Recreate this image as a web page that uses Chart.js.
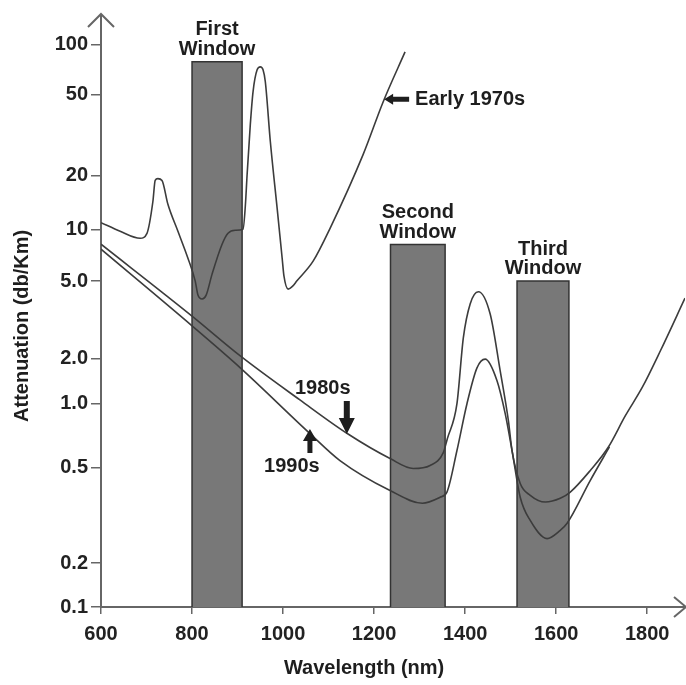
<!DOCTYPE html>
<html>
<head>
<meta charset="utf-8">
<script src="https://cdn.jsdelivr.net/npm/chart.js@4.4.1/dist/chart.umd.min.js"></script>
<style>
  html, body { margin: 0; padding: 0; background: #ffffff; }
  #wrap { width: 686px; height: 685px; position: relative; }
</style>
</head>
<body>
<div id="wrap"><canvas id="c"></canvas></div>
<script>
// ---------------- DATA ----------------
const wavelengthTicks = [600, 800, 1000, 1200, 1400, 1600, 1800];
const attenuationTicks = [0.1, 0.2, 0.5, 1, 2, 5, 10, 20, 50, 100];
const attenuationTickLabels = ['0.1', '0.2', '0.5', '1.0', '2.0', '5.0', '10', '20', '50', '100'];

const early1970sX = [600, 642, 686, 701, 714, 719, 725, 734, 747, 769, 791, 807, 813, 822, 831, 844, 866, 879, 895, 912, 917, 921, 928, 934, 943, 950, 956, 961, 972, 987, 998, 1002, 1011, 1021, 1030, 1066, 1103, 1176, 1220, 1268];
const early1970sY = [10.9, 9.74, 8.87, 9.48, 14.3, 18.75, 19.2, 18.75, 13.8, 9.74, 6.79, 5.0, 4.24, 4.05, 4.24, 5.49, 8.19, 9.48, 9.87, 10.0, 13.4, 20.2, 35.6, 52.1, 70.7, 73.7, 70.7, 59.9, 29.4, 13.1, 6.79, 5.34, 4.55, 4.71, 5.0, 6.53, 10.1, 25.4, 46.2, 90.7];

const s1980sX = [600, 800, 906, 1037, 1141, 1235, 1286, 1323, 1352, 1361, 1382, 1396, 1411, 1429, 1455, 1477, 1495, 1503, 1521, 1543, 1576, 1609, 1631, 1675, 1714, 1752, 1789, 1829, 1883];
const s1980sY = [8.19, 3.31, 2.07, 1.06, 0.723, 0.551, 0.495, 0.511, 0.588, 0.685, 1.0, 2.56, 3.82, 4.41, 3.39, 1.66, 0.832, 0.601, 0.429, 0.383, 0.359, 0.372, 0.395, 0.486, 0.621, 0.878, 1.285, 2.2, 4.09];

const s1990sX = [600, 800, 906, 1059, 1125, 1235, 1306, 1345, 1360, 1382, 1404, 1426, 1444, 1470, 1488, 1503, 1521, 1543, 1580, 1609, 1624, 1675, 1717];
const s1990sY = [7.66, 2.95, 1.74, 0.723, 0.539, 0.401, 0.355, 0.376, 0.395, 0.601, 1.0, 1.74, 1.99, 1.425, 0.897, 0.601, 0.376, 0.301, 0.253, 0.274, 0.293, 0.442, 0.625];

const windowNames = ['First', 'Second', 'Third'];
const windowStart = [800, 1236, 1514];
const windowEnd = [910, 1356, 1628];
const windowTop = [79, 8.15, 5.0];

// ---------------- AXIS WARP (hand-drawn log axis) ----------------
// fraction of plot height at which each tick value sits in the original drawing
const AXIS_KNOTS = [[0.1, 0], [0.2, 0.0741], [0.5, 0.2357], [1, 0.3434], [2, 0.4192], [5, 0.5505],
                    [10, 0.6380], [20, 0.7290], [50, 0.8653], [100, 0.9495], [151, 1]];

function warpValue(v) {
  const L = Math.log10(v);
  const k = AXIS_KNOTS;
  let i = 0;
  while (i < k.length - 2 && L > Math.log10(k[i + 1][0])) i++;
  const L0 = Math.log10(k[i][0]), L1 = Math.log10(k[i + 1][0]);
  return k[i][1] + (L - L0) / (L1 - L0) * (k[i + 1][1] - k[i][1]);
}
function unwarpDecimal(d) {
  const k = AXIS_KNOTS;
  let i = 0;
  while (i < k.length - 2 && d > k[i + 1][1]) i++;
  const L0 = Math.log10(k[i][0]), L1 = Math.log10(k[i + 1][0]);
  return Math.pow(10, L0 + (d - k[i][1]) / (k[i + 1][1] - k[i][1]) * (L1 - L0));
}

class WarpedLogScale extends Chart.LogarithmicScale {
  getPixelForValue(value) {
    if (value === undefined || value === 0) value = this.min;
    if (value === null || isNaN(value)) return NaN;
    return this.getPixelForDecimal(warpValue(value));
  }
  getValueForPixel(pixel) {
    return unwarpDecimal(this.getDecimalForPixel(pixel));
  }
}
WarpedLogScale.id = 'warpedLog';
WarpedLogScale.defaults = Chart.LogarithmicScale.defaults;
Chart.register(WarpedLogScale);

// ---------------- DATASETS ----------------
const toPts = (xs, ys) => xs.map((x, i) => ({ x: x, y: ys[i] }));
const FONT = "'Liberation Sans', Arial, sans-serif";
const CURVE = '#3c3c3c';

const datasets = [];
windowNames.forEach((n, i) => {
  datasets.push({
    label: n + ' Window',
    data: [{ x: windowStart[i], y: 0.1 }, { x: windowStart[i], y: windowTop[i] },
           { x: windowEnd[i], y: windowTop[i] }, { x: windowEnd[i], y: 0.1 }],
    borderColor: '#333333', borderWidth: 1.5, backgroundColor: '#787878',
    fill: 'start', pointRadius: 0, tension: 0, order: 5
  });
});
[['Early 1970s', early1970sX, early1970sY], ['1980s', s1980sX, s1980sY], ['1990s', s1990sX, s1990sY]]
  .forEach(([label, xs, ys]) => {
    datasets.push({
      label: label, data: toPts(xs, ys), borderColor: CURVE, borderWidth: 1.6,
      pointRadius: 0, fill: false, cubicInterpolationMode: 'monotone', order: 1
    });
  });

// ---------------- DECORATION PLUGIN ----------------
function arrow(ctx, tx, ty, fx, fy, shaftW, headW, headL) {
  const dx = tx - fx, dy = ty - fy, len = Math.hypot(dx, dy);
  const ux = dx / len, uy = dy / len, px = -uy, py = ux;
  const bx = tx - ux * headL, by = ty - uy * headL;
  ctx.beginPath();
  ctx.moveTo(fx + px * shaftW / 2, fy + py * shaftW / 2);
  ctx.lineTo(bx + px * shaftW / 2, by + py * shaftW / 2);
  ctx.lineTo(bx + px * headW / 2, by + py * headW / 2);
  ctx.lineTo(tx, ty);
  ctx.lineTo(bx - px * headW / 2, by - py * headW / 2);
  ctx.lineTo(bx - px * shaftW / 2, by - py * shaftW / 2);
  ctx.lineTo(fx - px * shaftW / 2, fy - py * shaftW / 2);
  ctx.closePath();
  ctx.fill();
}

const decor = {
  id: 'decor',
  afterDatasetsDraw(chart) {
    const ctx = chart.ctx, xs = chart.scales.x, ys = chart.scales.y, ca = chart.chartArea;
    ctx.save();
    ctx.fillStyle = '#1e1e1e';
    ctx.font = 'bold 20px ' + FONT;
    ctx.textAlign = 'center';
    ctx.textBaseline = 'middle';
    // window labels
    windowNames.forEach((n, i) => {
      const cx = xs.getPixelForValue((windowStart[i] + windowEnd[i]) / 2);
      const top = ys.getPixelForValue(windowTop[i]);
      ctx.fillText(n, cx, top - 32);
      ctx.fillText('Window', cx, top - 12.5);
    });
    // Early 1970s
    let tx = xs.getPixelForValue(1222), ty = ys.getPixelForValue(47.5);
    arrow(ctx, tx, ty, tx + 25, ty, 5, 11, 9);
    ctx.textAlign = 'left';
    ctx.fillText('Early 1970s', tx + 31, ty);
    // 1980s
    ctx.textAlign = 'center';
    tx = xs.getPixelForValue(1140); ty = ys.getPixelForValue(0.72);
    arrow(ctx, tx, ty, tx, ty - 33, 6, 16, 16);
    ctx.fillText('1980s', tx - 24, ty - 45);
    // 1990s
    tx = xs.getPixelForValue(1059); ty = ys.getPixelForValue(0.76);
    arrow(ctx, tx, ty, tx, ty + 24, 5, 14, 12);
    ctx.fillText('1990s', tx - 18, ty + 38);
    // axis arrowheads
    ctx.strokeStyle = '#666';
    ctx.lineWidth = 2;
    ctx.beginPath();
    ctx.moveTo(ca.left - 13, ca.top + 12); ctx.lineTo(ca.left, ca.top - 1); ctx.lineTo(ca.left + 13, ca.top + 12);
    ctx.moveTo(ca.right - 11, ca.bottom - 10); ctx.lineTo(ca.right + 1, ca.bottom); ctx.lineTo(ca.right - 11, ca.bottom + 10);
    ctx.stroke();
    // axis titles
    ctx.fillStyle = '#1e1e1e';
    ctx.textAlign = 'center';
    ctx.fillText('Wavelength (nm)', xs.getPixelForValue(1178), 668);
    ctx.translate(22, ys.getPixelForValue(2.95));
    ctx.rotate(-Math.PI / 2);
    ctx.fillText('Attenuation (db/Km)', 0, 0);
    ctx.restore();
  }
};

// ---------------- CHART ----------------
new Chart(document.getElementById('c'), {
  type: 'line',
  data: { datasets: datasets },
  options: {
    responsive: true,
    maintainAspectRatio: false,
    animation: false,
    layout: { padding: { top: 13, right: 1, left: 0, bottom: 0 } },
    plugins: { legend: { display: false }, tooltip: { enabled: false } },
    scales: {
      x: {
        type: 'linear', min: 600, max: 1883,
        afterBuildTicks: s => { s.ticks = wavelengthTicks.map(v => ({ value: v })); },
        afterFit: s => { s.height = 78; },
        ticks: { autoSkip: false, maxRotation: 0, padding: 8, color: '#222',
                 font: { family: FONT, size: 20, weight: 'bold' }, callback: v => String(v) },
        grid: { display: true, drawOnChartArea: false, drawTicks: true, tickLength: 7, color: '#666', lineWidth: 1.5 },
        border: { display: true, color: '#666', width: 2 },
        title: { display: false, text: 'Wavelength (nm)' }
      },
      y: {
        type: 'warpedLog', min: 0.1, max: 151,
        afterBuildTicks: s => { s.ticks = attenuationTicks.map(v => ({ value: v })); },
        afterFit: s => { s.width = 101; },
        ticks: { autoSkip: false, padding: 3, color: '#222',
                 font: { family: FONT, size: 20, weight: 'bold' },
                 callback: (v, i) => attenuationTickLabels[i] },
        grid: { display: true, drawOnChartArea: false, drawTicks: true, tickLength: 10, color: '#666', lineWidth: 1.5 },
        border: { display: true, color: '#666', width: 2 },
        title: { display: false, text: 'Attenuation (db/Km)' }
      }
    }
  },
  plugins: [decor]
});
</script>
</body>
</html>
